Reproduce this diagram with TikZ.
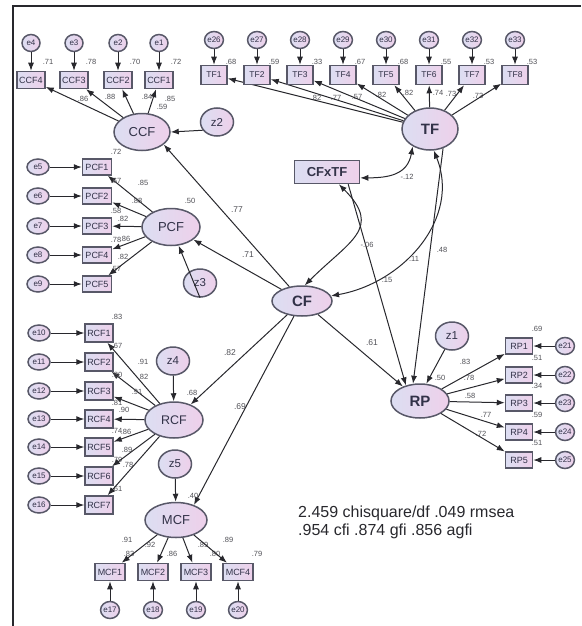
\documentclass[tikz,border=0pt]{standalone}
\usepackage{fontspec}
\setmainfont{Liberation Sans}
\usetikzlibrary{shapes.geometric, arrows.meta, positioning, calc}
\definecolor{lavL}{RGB}{220,222,242}
\definecolor{lavR}{RGB}{238,208,234}
\definecolor{edgegray}{RGB}{88,88,104}
\definecolor{linegray}{RGB}{40,40,45}
\definecolor{txtgray}{RGB}{50,50,72}
\definecolor{numgray}{RGB}{80,80,86}
\newcommand{\fs}[1]{\fontsize{#1}{#1}\selectfont}

\begin{document}
\begin{tikzpicture}[x=1pt, y=-1pt,
    latent/.style = {ellipse, draw=edgegray, line width=1.5pt, left color=lavL, right color=lavR, text=txtgray, inner sep=0pt},
    obs/.style = {rectangle, draw=edgegray, line width=1.5pt, left color=lavL, right color=lavR, text=txtgray, inner sep=0pt, minimum width=28pt, minimum height=17pt, font=\fs{9}},
    err/.style = {ellipse, draw=edgegray, line width=1.5pt, left color=lavL, right color=lavR, text=txtgray, inner sep=0pt, minimum width=18pt, minimum height=17pt, font=\fs{8}},
    dist/.style = {ellipse, draw=edgegray, line width=1.5pt, left color=lavL, right color=lavR, text=txtgray, inner sep=0pt, minimum width=33pt, minimum height=28pt, font=\fs{11.5}},
    num/.style = {text=numgray, inner sep=0pt, font=\fs{7.5}},
    path/.style = {text=numgray, inner sep=0pt, font=\fs{8.5}},
    arrow/.style = {-{Latex[length=8pt, width=6pt]}, line width=1pt, draw=linegray},
    cov/.style = {{Latex[length=8pt, width=6pt]}-{Latex[length=8pt, width=6pt]}, line width=1pt, draw=linegray}
]
\useasboundingbox (0,0) rectangle (581,626);
\draw[line width=1.2pt, draw=linegray] (13,626) -- (13,6) -- (581,6);

% Latent factors
\node[latent, minimum width=56pt, minimum height=37pt, font=\fs{13}] (CCF) at (142,132) {CCF};
\node[latent, minimum width=58pt, minimum height=37pt, font=\fs{13}] (PCF) at (171,227) {PCF};
\node[latent, minimum width=58pt, minimum height=36pt, font=\fs{12.5}] (RCF) at (174,420) {RCF};
\node[latent, minimum width=62pt, minimum height=35pt, font=\fs{13}] (MCF) at (176,520) {MCF};
\node[latent, minimum width=60pt, minimum height=30pt, font=\bfseries\fs{15}] (CF) at (302,301) {CF};
\node[latent, minimum width=56pt, minimum height=42pt, font=\bfseries\fs{15}] (TF) at (430,129) {TF};
\node[latent, minimum width=58pt, minimum height=34pt, font=\bfseries\fs{15}] (RP) at (420,401) {RP};
\node[obs, minimum width=65pt, minimum height=23pt, font=\bfseries\fs{13}] (CFxTF) at (327,172) {CFxTF};

% Disturbances
\node[dist] (z1) at (452,336) {z1};
\node[dist] (z2) at (217,122) {z2};
\node[dist] (z3) at (200,283) {z3};
\node[dist] (z4) at (173,361) {z4};
\node[dist] (z5) at (175,464) {z5};

% CCF items
\foreach \nm/\er/\xx/\rr/\lx/\ly/\ll in {CCF4/e4/31/.71/83/99/.86, CCF3/e3/74/.78/110/97/.88, CCF2/e2/118/.70/147/97/.84, CCF1/e1/159/.72/170/99/.85} {
  \node[obs] (\nm) at (\xx,80) {\nm};
  \node[err] (\er) at (\xx,43) {\er};
  \node[num] (r2-\nm) at (\xx+17,62) {\rr};
  \node[num] (ld-\nm) at (\lx,\ly) {\ll};
  \draw[arrow] (\er) -- (\nm);
  \draw[arrow] (CCF) -- (\nm);
}

% TF items
\foreach \nm/\er/\xx/\rr/\lx/\ly/\ll in {TF1/e26/214/.68/316/98/.82, TF2/e27/257/.59/336/98/.77, TF3/e28/300/.33/357/97/.57, TF4/e29/343/.67/381/95/.82, TF5/e30/386/.68/408/93/.82, TF6/e31/429/.55/438/93/.74, TF7/e32/472/.53/451/94/.73, TF8/e33/515/.53/478/96/.73} {
  \node[obs, minimum width=26pt, minimum height=19pt, font=\fs{8.5}] (\nm) at (\xx,75) {\nm};
  \node[err] (\er) at (\xx,40) {\er};
  \node[num] (r2-\nm) at (\xx+17,62) {\rr};
  \node[num] (ld-\nm) at (\lx,\ly) {\ll};
  \draw[arrow] (\er) -- (\nm);
  \draw[arrow] (TF) -- (\nm);
}

% PCF items
\foreach \nm/\er/\yy/\rr/\lx/\ly/\ll in {PCF1/e5/167/.72/143/183/.85, PCF2/e6/196/.67/137/201/.88, PCF3/e7/226/.58/123/219/.82, PCF4/e8/255/.78/125/239/.86, PCF5/e9/284/.57/123/257/.82} {
  \node[obs, minimum width=29pt, minimum height=16pt] (\nm) at (97,\yy) {\nm};
  \node[err, minimum width=22pt, minimum height=16pt] (\er) at (38,\yy) {\er};
  \node[num] (r2-\nm) at (116,\yy-15) {\rr};
  \node[num] (ld-\nm) at (\lx,\ly) {\ll};
  \draw[arrow] (\er) -- (\nm);
  \draw[arrow] (PCF) -- (\nm);
}

% RCF items
\foreach \nm/\er/\yy/\rr/\lx/\ly/\ll in {RCF1/e10/333/.83/143/362/.91, RCF2/e11/362/.67/143/377/.82, RCF3/e12/391/.80/137/392/.91, RCF4/e13/419/.81/124/410/.90, RCF5/e14/447/.74/126/432/.86, RCF6/e15/476/.79/127/450/.89, RCF7/e16/505/.61/128/465/.78} {
  \node[obs, minimum height=18pt] (\nm) at (99,\yy) {\nm};
  \node[err, minimum width=22pt, minimum height=16pt] (\er) at (39,\yy) {\er};
  \node[num] (r2-\nm) at (117,\yy-16) {\rr};
  \node[num] (ld-\nm) at (\lx,\ly) {\ll};
  \draw[arrow] (\er) -- (\nm);
  \draw[arrow] (RCF) -- (\nm);
}

% MCF items
\foreach \nm/\er/\xx/\rr/\lx/\ly/\ll in {MCF1/e17/110/.83/127/540/.91, MCF2/e18/153/.86/150/545/.92, MCF3/e19/196/.80/203/545/.89, MCF4/e20/238/.79/228/540/.89} {
  \node[obs, minimum width=30pt] (\nm) at (\xx,572) {\nm};
  \node[err] (\er) at (\xx,610) {\er};
  \node[num] (r2-\nm) at (\xx+19,554) {\rr};
  \node[num] (ld-\nm) at (\lx,\ly) {\ll};
  \draw[arrow] (\er) -- (\nm);
  \draw[arrow] (MCF) -- (\nm);
}

% RP items
\foreach \nm/\er/\yy/\rr/\lx/\ly/\ll in {RP1/e21/346/.69/465/362/.83, RP2/e22/375/.51/469/378/.78, RP3/e23/403/.34/470/396/.58, RP4/e24/432/.59/486/415/.77, RP5/e25/460/.51/481/434/.72} {
  \node[obs, minimum width=27pt, minimum height=16pt] (\nm) at (519,\yy) {\nm};
  \node[err] (\er) at (565,\yy) {\er};
  \node[num] (r2-\nm) at (537,\yy-17) {\rr};
  \node[num] (ld-\nm) at (\lx,\ly) {\ll};
  \draw[arrow] (\er) -- (\nm);
  \draw[arrow] (RP) -- (\nm);
}

% Disturbance paths
\draw[arrow] (z2.210) -- (CCF.east);
\draw[arrow] (z3.south) -- (PCF);
\draw[arrow] (z4) -- (RCF);
\draw[arrow] (z5) -- (MCF);
\draw[arrow] (z1) -- (RP.70);

% Structural paths
\draw[arrow] (CF) -- (CCF.-30);
\draw[arrow] (CF) -- (PCF);
\draw[arrow] (CF) -- (RCF);
\draw[arrow] (CF) -- (MCF.40);
\draw[arrow] (CF) -- (RP);
\draw[arrow] (CFxTF.-30) -- (RP.132);
\draw[arrow] (TF.-56) -- (RP.112);

% Covariances
\draw[cov] (CFxTF.-46) to[out=-45, in=45, looseness=1.5] (CF.80);
\draw[cov] (TF.225) to[out=-100, in=0, looseness=1.2] (CFxTF.-10);
\draw[cov] (TF.-80) to[out=-68, in=10, looseness=1.05] (CF.10);

% Estimates
\node[num] (r2-CCF) at (162,107) {.59};
\node[num] (r2-PCF) at (190,201) {.50};
\node[num] (r2-RCF) at (192,393) {.68};
\node[num] (r2-MCF) at (193,496) {.40};
\node[num] (r2-RP) at (440,378) {.50};
\node[path] (b-CCF) at (237,210) {.77};
\node[path] (b-PCF) at (248,255) {.71};
\node[path] (b-RCF) at (230,353) {.82};
\node[path] (b-MCF) at (240,407) {.69};
\node[path] (b-RP) at (372,343) {.61};
\node[num] (b-int) at (387,280) {.15};
\node[num] (b-TF) at (414,259) {.11};
\node[num] (c-TFCF) at (442,250) {.48};
\node[num] (c-CFint) at (367,245) {-.06};
\node[num] (c-TFint) at (407,177) {-.12};

% Fit indices
\node[anchor=north west, align=left, inner sep=0pt, text=linegray, font=\fontsize{16}{18}\selectfont] (fit) at (298,506) {2.459 chisquare/df .049 rmsea\\.954 cfi .874 gfi .856 agfi};

\end{tikzpicture}
\end{document}
